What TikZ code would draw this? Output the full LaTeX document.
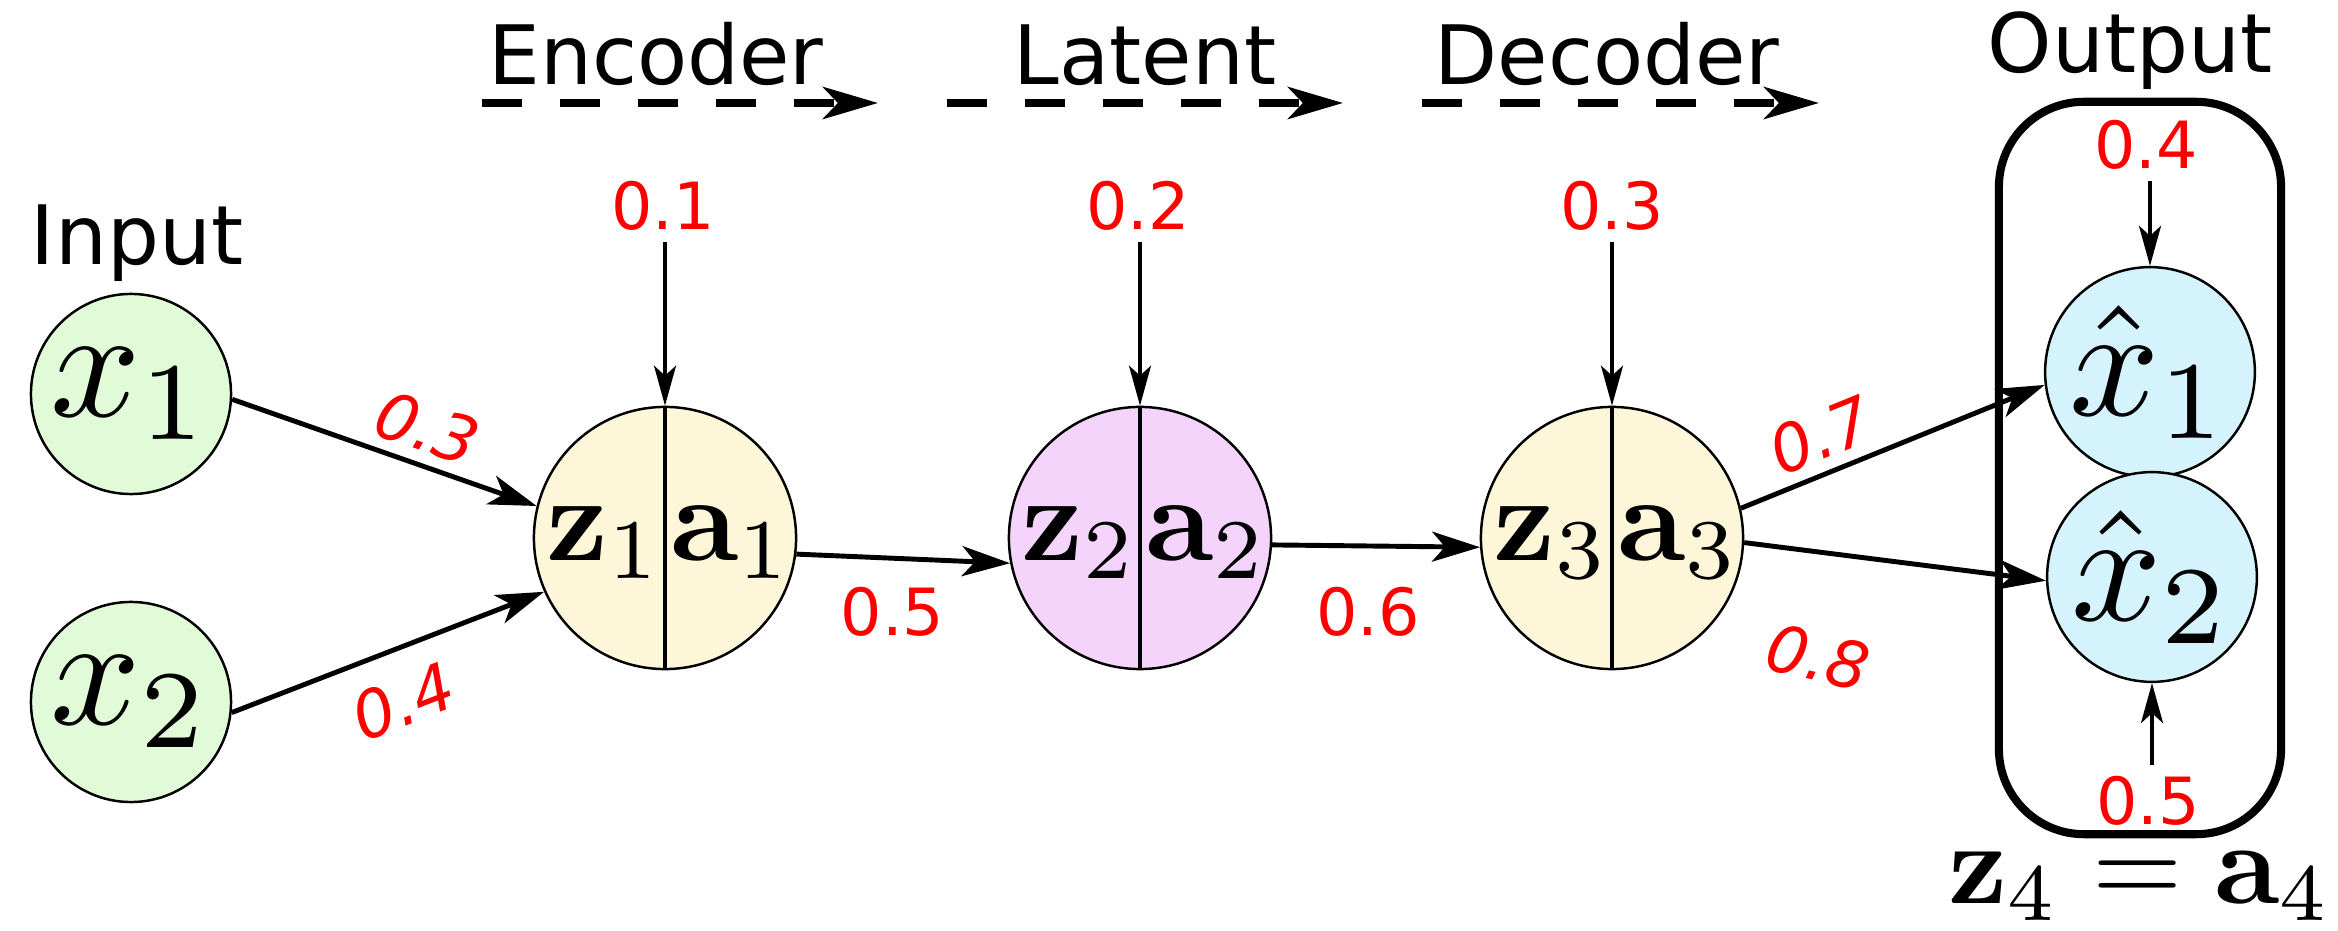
\RequirePackage{fix-cm}
\documentclass[tikz,border=0pt]{standalone}
\usepackage[no-math]{fontspec}
\setmainfont{DejaVu Sans}
\usetikzlibrary{arrows.meta}
\definecolor{ingreen}{RGB}{225,250,215}
\definecolor{hidyellow}{RGB}{253,246,217}
\definecolor{latpurple}{RGB}{245,212,252}
\definecolor{outcyan}{RGB}{212,243,252}
\definecolor{numred}{RGB}{255,0,0}
\begin{document}
\begin{tikzpicture}[x=0.01cm,y=-0.01cm,
  neuron/.style={circle, draw, line width=0.7pt, inner sep=0pt},
  innode/.style={neuron, minimum size=2cm, font=\fontsize{10}{12}\selectfont},
  hidnode/.style={neuron, minimum size=2.62cm},
  zlab/.style={inner sep=0pt, anchor=base, font=\fontsize{10}{12}\selectfont},
  head/.style={inner sep=0pt, anchor=base, font=\fontsize{23.3}{28}\selectfont},
  blab/.style={text=numred, inner sep=3pt, font=\fontsize{18.5}{22}\selectfont},
  wlab/.style={text=numred, inner sep=3pt, font=\fontsize{18.5}{22}\selectfont\itshape},
  ulab/.style={text=numred, inner sep=3pt, font=\fontsize{18.5}{22}\selectfont},
  wedge/.style={line width=1.4pt, -{Stealth[length=0.48cm, width=0.3cm, inset=0.13cm]}},
  bias/.style={line width=1pt, -{Stealth[length=0.4cm, width=0.22cm, inset=0.1cm]}},
  phase/.style={line width=2.3pt, dash pattern=on 0.4cm off 0.38cm, -{Stealth[length=0.55cm, width=0.32cm, inset=0.15cm]}}
]
\useasboundingbox (0,0) rectangle (2338,931);

% header
\node[head] (enc) at (656,85) {Encoder};
\node[head] (lat) at (1145,85) {Latent};
\node[head] (dec) at (1607,85) {Decoder};
\node[head] (outl) at (2130,73) {Output};
\coordinate (e1) at (482,103); \coordinate (e2) at (878,103);
\coordinate (l1) at (947,103); \coordinate (l2) at (1343,103);
\coordinate (d1) at (1422,103); \coordinate (d2) at (1819,103);
\draw[phase] (e1) -- (e2);
\draw[phase] (l1) -- (l2);
\draw[phase] (d1) -- (d2);

\node[head] (inl) at (137,265) {Input};

% output box
\node[draw, line width=2.3pt, rounded corners=0.85cm, minimum width=2.82cm, minimum height=7.32cm] (outbox) at (2140,468) {};

% nodes
\node[innode, fill=ingreen] (x1) at (131,394) {\scalebox{4.5}{$x_1$}};
\node[innode, fill=ingreen] (x2) at (131,702) {\scalebox{4.5}{$x_2$}};

\node[hidnode, fill=hidyellow] (z1) at (665,538) {};
\node[hidnode, fill=latpurple] (z2) at (1140,538) {};
\node[hidnode, fill=hidyellow] (z3) at (1612,538) {};
\foreach \n/\i in {z1/1,z2/2,z3/3}{
  \draw[line width=1pt] (\n.north) -- (\n.south);
  \node[zlab] (\n l) at ([xshift=-0.6cm, yshift=-0.22cm]\n.center) {\scalebox{3.45}{$\mathbf{z}_\i$}};
  \node[zlab] (\n r) at ([xshift=0.67cm, yshift=-0.22cm]\n.center) {\scalebox{3.45}{$\mathbf{a}_\i$}};
}

\node[innode, fill=outcyan] (xh1) at (2150,372) {\scalebox{4.5}{$\hat{x}_1$}};
\node[innode, fill=outcyan] (xh2) at (2152,577) {\scalebox{4.5}{$\hat{x}_2$}};

\node[font=\fontsize{10}{12}\selectfont, inner sep=0pt] (eq) at (2140,886) {\scalebox{3.3}{$\mathbf{z}_4=\mathbf{a}_4$}};

% biases
\node[blab] (b1) at (663,206) {0.1};
\node[blab] (b2) at (1138,206) {0.2};
\node[blab] (b3) at (1612,206) {0.3};
\node[blab] (b4) at (2146,145) {0.4};
\node[blab] (b5) at (2148,801) {0.5};
\draw[bias] (b1.south -| z1.north) -- (z1.north);
\draw[bias] (b2.south -| z2.north) -- (z2.north);
\draw[bias] (b3.south -| z3.north) -- (z3.north);
\draw[bias] (b4.south -| xh1.north) -- (xh1.north);
\draw[bias] (b5.north -| xh2.south) -- (xh2.south);

% weights
\draw[wedge] (x1.-3) -- (z1.166) node[wlab, sloped, above, pos=0.6] {0.3};
\draw[wedge] (x2.-6) -- (z1.204) node[wlab, sloped, below=4pt, pos=0.49] {0.4};
\draw[wedge] (z1.-7) -- (z2.191) node[ulab, below=4.5pt, pos=0.45] {0.5};
\draw[wedge] (z2.-3.5) -- (z3.184) node[ulab, below=8pt, pos=0.46] {0.6};
\draw[wedge] (z3.13) -- (xh1.187.5) node[wlab, sloped, above, pos=0.31] {0.7};
\draw[wedge] (z3.-2) -- (xh2.182) node[wlab, sloped, below=19pt, pos=0.3, rotate=-6] {0.8};
\end{tikzpicture}
\end{document}
